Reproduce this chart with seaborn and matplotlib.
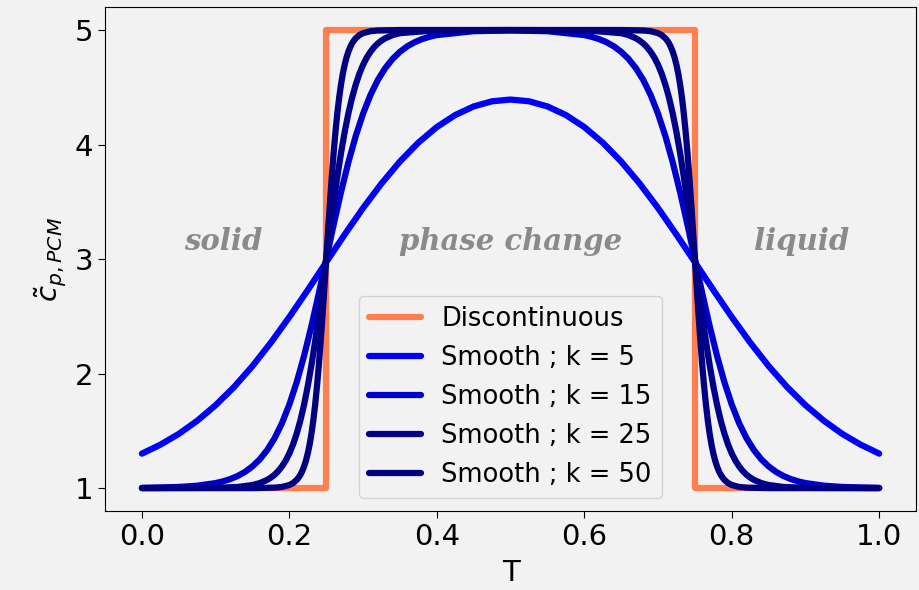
import matplotlib
matplotlib.use("Agg")
import matplotlib.pyplot as plt
import seaborn as sns
import pandas as pd

# ------------------------
# data
# ------------------------
T_DISC = [0.0, 0.25, 0.25, 0.75, 0.75, 1.0]
CP_DISC = [1.0, 1.0, 5.0, 5.0, 1.0, 1.0]

T_K5 = [0.0, 0.025, 0.05, 0.075, 0.1, 0.125, 0.15, 0.175, 0.2, 0.225, 0.25,
        0.275, 0.3, 0.325, 0.35, 0.375, 0.4, 0.425, 0.45, 0.475, 0.5,
        0.525, 0.55, 0.575, 0.6, 0.625, 0.65, 0.675, 0.7, 0.725, 0.75,
        0.775, 0.8, 0.825, 0.85, 0.875, 0.9, 0.925, 0.95, 0.975, 1.0]
CP_K5 = [1.301, 1.379, 1.473, 1.588, 1.724, 1.883, 2.066, 2.271, 2.494, 2.730,
         2.973, 3.214, 3.446, 3.660, 3.852, 4.017, 4.153, 4.258, 4.333, 4.378,
         4.393,
         4.378, 4.333, 4.258, 4.153, 4.017, 3.852, 3.660, 3.446, 3.214, 2.973,
         2.730, 2.494, 2.271, 2.066, 1.883, 1.724, 1.588, 1.473, 1.379, 1.301]

T_K15 = [0.0, 0.05, 0.075,
         0.1, 0.11, 0.12, 0.13, 0.14, 0.15, 0.16, 0.17, 0.18, 0.19, 0.2,
         0.21, 0.22, 0.23, 0.24, 0.25, 0.26, 0.27, 0.28, 0.29, 0.3,
         0.31, 0.32, 0.33, 0.34, 0.35, 0.36, 0.37, 0.38, 0.39, 0.4,
         0.45, 0.5, 0.55,
         0.6, 0.61, 0.62, 0.63, 0.64, 0.65, 0.66, 0.67, 0.68, 0.69, 0.7,
         0.71, 0.72, 0.73, 0.74, 0.75, 0.76, 0.77, 0.78, 0.79, 0.8,
         0.81, 0.82, 0.83, 0.84, 0.85, 0.86, 0.87, 0.88, 0.89, 0.9,
         0.925, 0.95, 1.0]
CP_K15 = [1.002, 1.010, 1.021,
          1.044, 1.059, 1.079, 1.106, 1.142, 1.190, 1.252, 1.333, 1.436,
          1.567, 1.730, 1.926, 2.156, 2.417, 2.702, 3.000, 3.298, 3.583,
          3.844, 4.074, 4.270, 4.433, 4.564, 4.667, 4.748, 4.810, 4.858,
          4.894, 4.921, 4.941, 4.956,
          4.990, 4.996, 4.990,
          4.956, 4.941, 4.921, 4.894, 4.858, 4.810, 4.748, 4.667, 4.564,
          4.433, 4.270, 4.074, 3.844, 3.583, 3.298, 3.000, 2.702, 2.417,
          2.156, 1.926, 1.730, 1.567, 1.436, 1.333, 1.252, 1.190, 1.142,
          1.106, 1.079, 1.059, 1.044,
          1.021, 1.010, 1.002]

T_K25 = [0.0, 0.1, 0.13, 0.15, 0.16,
         0.17, 0.175, 0.18, 0.185, 0.19, 0.195, 0.2, 0.205, 0.21, 0.215,
         0.22, 0.225, 0.23, 0.235, 0.24, 0.245, 0.25, 0.255, 0.26, 0.265,
         0.27, 0.275, 0.28, 0.285, 0.29, 0.295, 0.3, 0.305, 0.31, 0.315,
         0.32, 0.325, 0.33,
         0.34, 0.35, 0.4, 0.5, 0.6, 0.65, 0.66,
         0.67, 0.675, 0.68, 0.685, 0.69, 0.695, 0.7, 0.705, 0.71, 0.715,
         0.72, 0.725, 0.73, 0.735, 0.74, 0.745, 0.75, 0.755, 0.76, 0.765,
         0.77, 0.775, 0.78, 0.785, 0.79, 0.795, 0.8, 0.805, 0.81, 0.815,
         0.82, 0.825, 0.83,
         0.84, 0.85, 0.87, 0.9, 1.0]
CP_K25 = [1.000, 1.002, 1.010, 1.027, 1.044,
          1.072, 1.092, 1.117, 1.149, 1.190, 1.240, 1.303, 1.381, 1.477,
          1.592, 1.730, 1.891, 2.076, 2.283, 2.510, 2.751, 3.000, 3.249,
          3.490, 3.717, 3.924, 4.109, 4.270, 4.408, 4.523, 4.619, 4.697,
          4.760, 4.810, 4.851, 4.883, 4.908, 4.928,
          4.956, 4.973, 4.998, 5.000, 4.998, 4.973, 4.956,
          4.928, 4.908, 4.883, 4.851, 4.810, 4.760, 4.697, 4.619, 4.523,
          4.408, 4.270, 4.109, 3.924, 3.717, 3.490, 3.249, 3.000, 2.751,
          2.510, 2.283, 2.076, 1.891, 1.730, 1.592, 1.477, 1.381, 1.303,
          1.240, 1.190, 1.149, 1.117, 1.092, 1.072,
          1.044, 1.027, 1.010, 1.002, 1.000]

T_K50 = [0.0, 0.1, 0.15, 0.18, 0.19, 0.2, 0.205,
         0.21, 0.2125, 0.215, 0.2175, 0.22, 0.2225, 0.225, 0.2275, 0.23,
         0.2325, 0.235, 0.2375, 0.24, 0.2425, 0.245, 0.2475, 0.25, 0.2525,
         0.255, 0.2575, 0.26, 0.2625, 0.265, 0.2675, 0.27, 0.2725, 0.275,
         0.2775, 0.28, 0.2825, 0.285, 0.2875, 0.29,
         0.295, 0.3, 0.31, 0.32, 0.35, 0.5, 0.65, 0.68, 0.69, 0.7, 0.705,
         0.71, 0.7125, 0.715, 0.7175, 0.72, 0.7225, 0.725, 0.7275, 0.73,
         0.7325, 0.735, 0.7375, 0.74, 0.7425, 0.745, 0.7475, 0.75, 0.7525,
         0.755, 0.7575, 0.76, 0.7625, 0.765, 0.7675, 0.77, 0.7725, 0.775,
         0.7775, 0.78, 0.7825, 0.785, 0.7875, 0.79,
         0.795, 0.8, 0.81, 0.82, 0.85, 0.9, 1.0]
CP_K50 = [1.000, 1.000, 1.000, 1.004, 1.010, 1.027, 1.044,
          1.072, 1.092, 1.117, 1.149, 1.190, 1.240, 1.303, 1.381, 1.477,
          1.592, 1.730, 1.891, 2.076, 2.283, 2.510, 2.751, 3.000, 3.249,
          3.490, 3.717, 3.924, 4.109, 4.270, 4.408, 4.523, 4.619, 4.697,
          4.760, 4.810, 4.851, 4.883, 4.908, 4.928,
          4.956, 4.973, 4.990, 4.996, 5.000, 5.000, 5.000, 4.996, 4.990,
          4.973, 4.956,
          4.928, 4.908, 4.883, 4.851, 4.810, 4.760, 4.697, 4.619, 4.523,
          4.408, 4.270, 4.109, 3.924, 3.717, 3.490, 3.249, 3.000, 2.751,
          2.510, 2.283, 2.076, 1.891, 1.730, 1.592, 1.477, 1.381, 1.303,
          1.240, 1.190, 1.149, 1.117, 1.092, 1.072,
          1.044, 1.027, 1.010, 1.004, 1.000, 1.000, 1.000]

LABELS = ["Discontinuous", "Smooth ; k = 5", "Smooth ; k = 15",
          "Smooth ; k = 25", "Smooth ; k = 50"]
COLORS = ["coral", "blue", "mediumblue", "darkblue", "navy"]

REGIONS = ["solid", "phase change", "liquid"]
REGION_T = [0.11, 0.50, 0.895]
REGION_CP = [3.15, 3.15, 3.15]

# ------------------------
# style
# ------------------------
bg = "#f2f2f2"
sns.set_style("ticks", {"axes.facecolor": bg, "figure.facecolor": bg,
                        "axes.edgecolor": "black", "xtick.color": "black",
                        "ytick.color": "black", "text.color": "black",
                        "axes.labelcolor": "black"})
plt.rcParams["font.family"] = ["DejaVu Sans"]
plt.rcParams["xtick.major.size"] = 5
plt.rcParams["ytick.major.size"] = 5

fig = plt.figure(figsize=(9.19, 5.9), dpi=100)
ax = fig.add_axes([0.1143, 0.1339, 0.8825, 0.854])

series = [(T_DISC, CP_DISC), (T_K5, CP_K5), (T_K15, CP_K15),
          (T_K25, CP_K25), (T_K50, CP_K50)]
for (t, cp), lab, col in zip(series, LABELS, COLORS):
    df = pd.DataFrame({"T": t, "cp": cp})
    sns.lineplot(data=df, x="T", y="cp", ax=ax, color=col, label=lab,
                 linewidth=4.5, estimator=None, sort=False)

for txt, x, y in zip(REGIONS, REGION_T, REGION_CP):
    ax.text(x, y, txt, ha="center", va="center", fontsize=21,
            family="DejaVu Serif", fontweight="bold", style="italic",
            color="#8a8a8a")

ax.set_xlim(-0.05, 1.05)
ax.set_ylim(0.8, 5.2)
ax.set_xticks([0.0, 0.2, 0.4, 0.6, 0.8, 1.0])
ax.set_yticks([1, 2, 3, 4, 5])
ax.tick_params(labelsize=21)
ax.set_xlabel("T", fontsize=21, labelpad=6)
ax.set_ylabel(r"$\tilde{c}_{p,PCM}$", fontsize=21)

ax.legend(loc="lower center", fontsize=18.5, facecolor=bg)

plt.savefig("out.png", dpi=100, facecolor=bg)
